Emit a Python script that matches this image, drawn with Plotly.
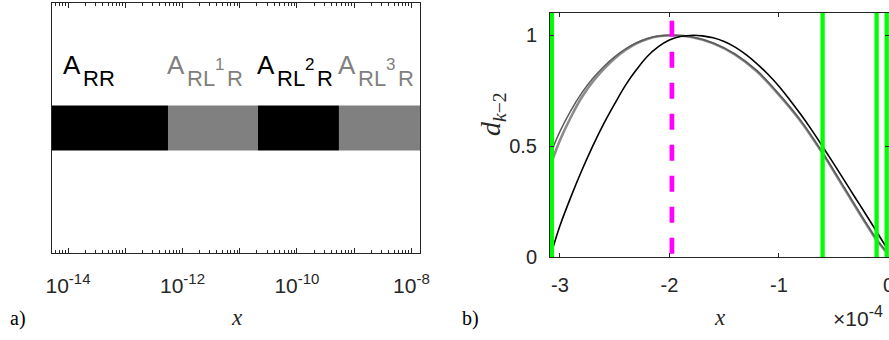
import numpy as np
import plotly.graph_objects as go

# ---------------- data: panel a) ----------------
region_edges = [1e-15, 5.58e-13, 2.08e-11, 5.42e-10, 1e-7]
region_colors = ["#000000", "#808080", "#000000", "#808080"]
bar_y = [0.41, 0.59]
label_x = [8.18e-15, 5.37e-13, 2.0e-11, 5.25e-10]
label_y = 0.708
label_parts = [
    [("A", "main"), ("RR", "sub")],
    [("A", "main"), ("RL", "sub"), ("1", "sup"), ("R", "sub2")],
    [("A", "main"), ("RL", "sub"), ("2", "sup"), ("R", "sub2")],
    [("A", "main"), ("RL", "sub"), ("3", "sup"), ("R", "sub2")],
]
xa_tickvals = [1e-14, 1e-13, 1e-12, 1e-11, 1e-10, 1e-9, 1e-8]
xa_exponents = ["-14", "", "-12", "", "-10", "", "-8"]

# ---------------- data: panel b) (x in units of 1e-4) ----------------
black_x = [-3.064, -3.0, -2.9, -2.8, -2.7, -2.6, -2.5, -2.4, -2.3, -2.2, -2.1, -2.0, -1.9, -1.78,
           -1.7, -1.6, -1.5, -1.4, -1.3, -1.2, -1.1, -1.0, -0.9, -0.8, -0.7, -0.6, -0.5, -0.4,
           -0.3, -0.2, -0.1, -0.01]
black_y = [0.04, 0.14, 0.27, 0.39, 0.50, 0.60, 0.69, 0.775, 0.845, 0.905, 0.948, 0.978, 0.994, 1.0,
           0.997, 0.988, 0.971, 0.946, 0.912, 0.871, 0.824, 0.77, 0.708, 0.642, 0.572, 0.497, 0.421, 0.343,
           0.265, 0.187, 0.108, 0.036]
dgray_x = [-3.073, -3.0, -2.9, -2.8, -2.7, -2.6, -2.5, -2.4, -2.3, -2.2, -2.1, -1.97,
           -1.8, -1.6, -1.4, -1.2, -1.0, -0.8, -0.6, -0.4, -0.2, -0.1, -0.01]
dgray_y = [0.48, 0.565, 0.66, 0.74, 0.805, 0.858, 0.902, 0.938, 0.966, 0.985, 0.996, 1.0,
           0.993, 0.965, 0.915, 0.84, 0.735, 0.615, 0.47, 0.31, 0.15, 0.075, 0.02]
lgray_x = [-3.073, -3.0, -2.9, -2.8, -2.7, -2.6, -2.5, -2.4, -2.3, -2.2, -2.1, -1.97,
           -1.8, -1.6, -1.4, -1.2, -1.0, -0.8, -0.6, -0.4, -0.2, -0.1, -0.01]
lgray_y = [0.43, 0.525, 0.63, 0.72, 0.79, 0.847, 0.895, 0.933, 0.963, 0.983, 0.995, 1.0,
           0.992, 0.963, 0.912, 0.836, 0.731, 0.611, 0.466, 0.306, 0.146, 0.071, 0.017]
green_x = [-3.073, -0.601, -0.108, -0.016]
magenta_x = -1.977
magenta_top = 1.065
xb_tickvals = [-3, -2, -1, 0]
xb_ticktext = ["-3", "-2", "-1", "0"]
yb_tickvals = [0, 0.5, 1]
yb_ticktext = ["0", "0.5", "1"]

W, H = 889, 340
SANS = "Liberation Sans"
SERIF = "Liberation Serif"
AX = "#262626"

fig = go.Figure()

# panel a bars
for i, c in enumerate(region_colors):
    x0, x1 = region_edges[i], region_edges[i + 1]
    fig.add_trace(go.Scatter(x=[x0, x1, x1, x0, x0], y=[bar_y[0], bar_y[0], bar_y[1], bar_y[1], bar_y[0]],
                             fill="toself", fillcolor=c, mode="lines", line=dict(width=0, color=c),
                             xaxis="x", yaxis="y", hoverinfo="skip"))

# panel b curves
fig.add_trace(go.Scatter(x=lgray_x, y=lgray_y, mode="lines", line=dict(color="#8c8c8c", width=2.6, shape="spline"),
                         xaxis="x2", yaxis="y2"))
fig.add_trace(go.Scatter(x=dgray_x, y=dgray_y, mode="lines", line=dict(color="#5c5c5c", width=1.5, shape="spline"),
                         xaxis="x2", yaxis="y2"))
fig.add_trace(go.Scatter(x=black_x, y=black_y, mode="lines", line=dict(color="#000000", width=1.6, shape="spline"),
                         xaxis="x2", yaxis="y2"))
for g in green_x:
    fig.add_trace(go.Scatter(x=[g, g], y=[0, 1.1], mode="lines", line=dict(color="#00ff00", width=4.3),
                             xaxis="x2", yaxis="y2"))
fig.add_trace(go.Scatter(x=[magenta_x, magenta_x], y=[magenta_top, 0], mode="lines",
                         line=dict(color="#ff00ff", width=4.7, dash="16px,15px"), xaxis="x2", yaxis="y2"))

minor_vals = [k * 10.0 ** d for d in range(-15, -7) for k in range(2, 10)]
xa_ticktext = [("10<sup><span style='font-size:15px'>%s</span></sup>" % e) if e else "" for e in xa_exponents]


def axis_common(size=20):
    return dict(showline=True, linecolor=AX, linewidth=1, showgrid=False, zeroline=False, automargin=False,
                ticklabeloverflow="allow", tickcolor=AX, tickfont=dict(family=SANS, size=size, color=AX))


fig.update_layout(
    width=W, height=H, margin=dict(l=0, r=0, t=0, b=0, pad=0, autoexpand=False),
    plot_bgcolor="white", paper_bgcolor="white", showlegend=False,
    xaxis=dict(type="log", domain=[52 / W, 420 / W], range=[-14.28, -7.85],
               tickvals=xa_tickvals, ticktext=xa_ticktext, ticks="inside", ticklen=5, mirror="allticks",
               minor=dict(tickvals=minor_vals, ticks="inside", ticklen=3, tickcolor=AX),
               ticklabelstandoff=14, anchor="y", **axis_common(21)),
    yaxis=dict(domain=[(H - 253) / H, (H - 3) / H], range=[0, 1], ticks="", showticklabels=False,
               mirror=True, anchor="x", **axis_common()),
    xaxis2=dict(domain=[550 / W, 1.0], range=[-3.09, 0.005], tickvals=xb_tickvals, ticktext=xb_ticktext,
                ticks="inside", ticklen=4, mirror="allticks", ticklabelstandoff=10, anchor="y2", **axis_common()),
    yaxis2=dict(domain=[(H - 257) / H, (H - 13) / H], range=[0, 1.1], tickvals=yb_tickvals, ticktext=yb_ticktext,
                ticks="inside", ticklen=4, mirror="allticks", ticklabelstandoff=8, anchor="x2", **axis_common()),
)

# labels in panel a
sizes = {"main": 26, "sub": 22, "sup": 17, "sub2": 22}
base_dy = {"main": 0, "sub": 12, "sup": -4, "sub2": 12}
offsets = [
    {"main": 0, "sub": 20},
    {"main": 0, "sub": 20, "sup": 48, "sub2": 60},
    {"main": 0, "sub": 20, "sup": 48, "sub2": 60},
    {"main": 0, "sub": 20, "sup": 48, "sub2": 60},
]
label_colors = ["#000000", "#808080", "#000000", "#808080"]
for i, parts in enumerate(label_parts):
    for txt, kind in parts:
        s = sizes[kind]
        fig.add_annotation(x=np.log10(label_x[i]), y=label_y, xref="x", yref="y", text=txt, showarrow=False,
                           xanchor="left", yanchor="bottom", xshift=offsets[i][kind] - 2,
                           yshift=-(base_dy[kind]) - 0.212 * s,
                           font=dict(family=SANS, size=s, color=label_colors[i]))

# axis titles and panel tags
fig.add_annotation(x=237 / W, y=(H - 317) / H, xref="paper", yref="paper", text="<i>x</i>", showarrow=False,
                   font=dict(family=SERIF, size=23, color=AX), xanchor="center", yanchor="middle")
fig.add_annotation(x=720 / W, y=(H - 317) / H, xref="paper", yref="paper", text="<i>x</i>", showarrow=False,
                   font=dict(family=SERIF, size=23, color=AX), xanchor="center", yanchor="middle")
fig.add_annotation(x=8 / W, y=(H - 318) / H, xref="paper", yref="paper", text="a)", showarrow=False,
                   font=dict(family=SERIF, size=20, color="black"), xanchor="left", yanchor="middle")
fig.add_annotation(x=460 / W, y=(H - 318) / H, xref="paper", yref="paper", text="b)", showarrow=False,
                   font=dict(family=SERIF, size=20, color="black"), xanchor="left", yanchor="middle")
fig.add_annotation(x=831 / W, y=(H - 316) / H, xref="paper", yref="paper",
                   text="×10<sup><span style='font-size:16px'>-4</span></sup>",
                   showarrow=False, font=dict(family=SANS, size=21, color=AX), xanchor="left", yanchor="middle")
fig.add_annotation(x=492 / W, y=(H - 114) / H, xref="paper", yref="paper",
                   text="<i>d</i><sub><i>k</i>−2</sub>", textangle=-90, showarrow=False,
                   font=dict(family=SERIF, size=28, color=AX), xanchor="center", yanchor="middle")

post = ("document.documentElement.style.margin='0px';document.documentElement.style.overflow='hidden';"
        "document.body.style.margin='0px';document.body.style.overflow='hidden';")
fig.write_html("out.html", config={"displayModeBar": False}, post_script=post)
